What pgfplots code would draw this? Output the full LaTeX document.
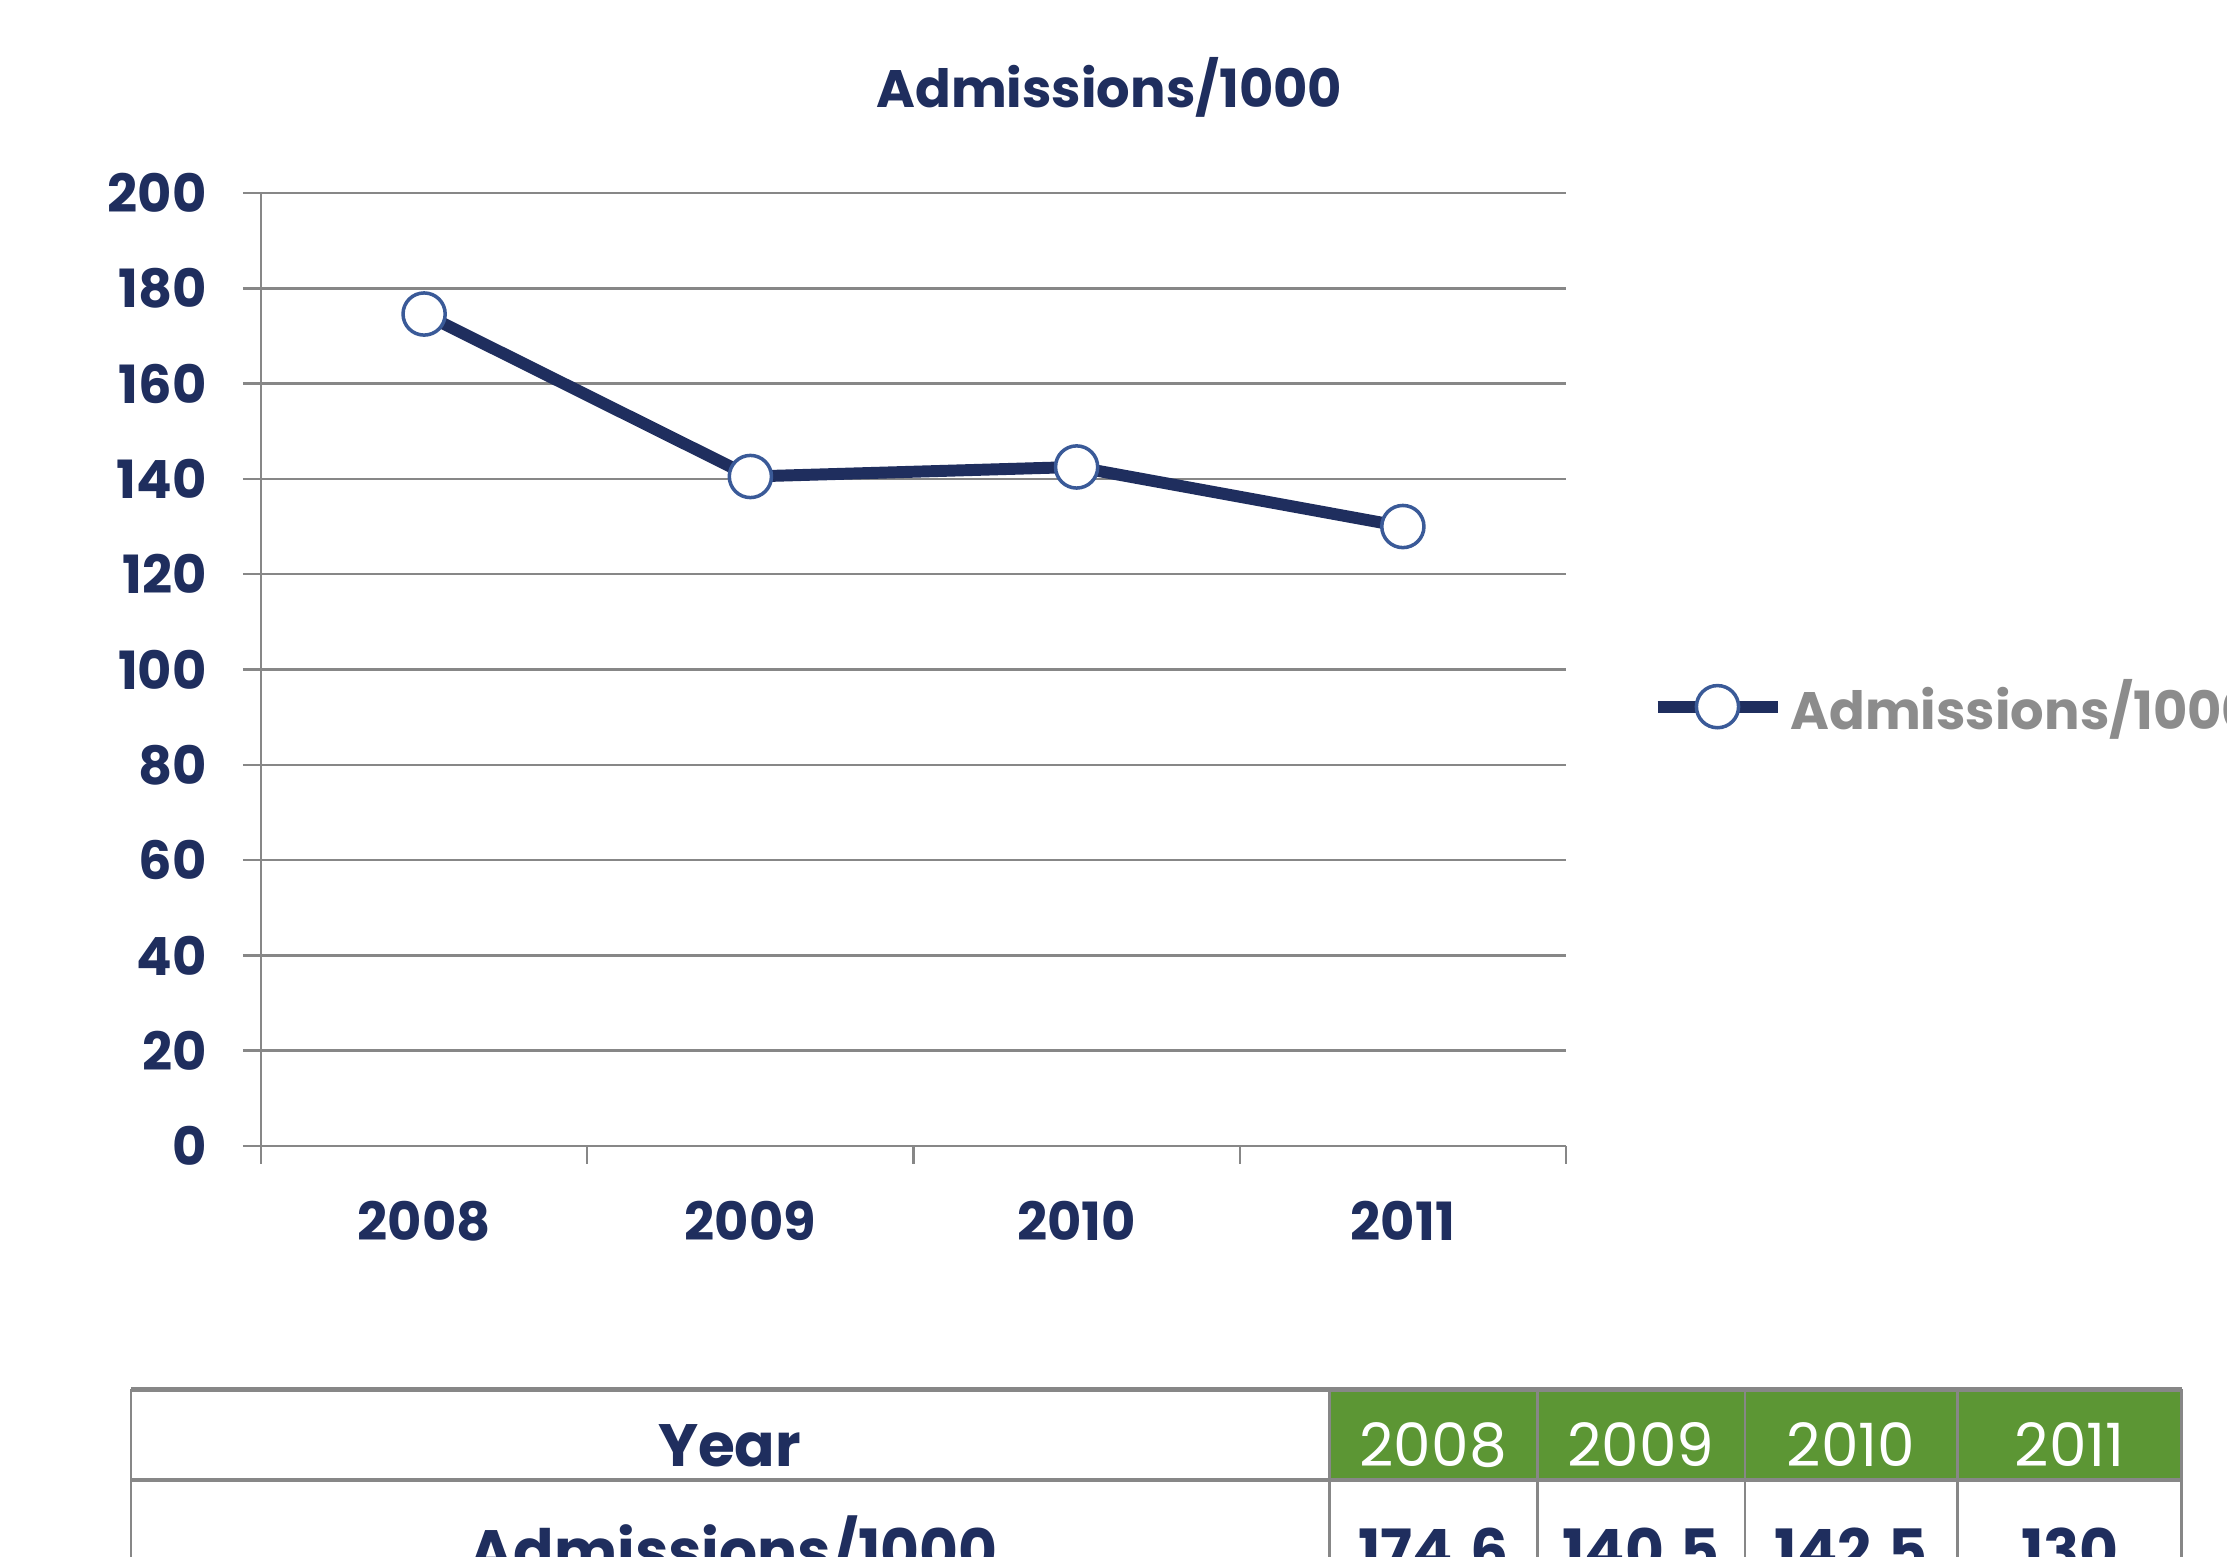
\documentclass[border=0pt]{standalone}
\usepackage{fontspec}
\setmainfont{Poppins}
\usepackage{pgfplots}
\pgfplotsset{compat=1.18}

\definecolor{navy}{RGB}{31,46,94}
\definecolor{markblue}{RGB}{58,90,152}
\definecolor{gridgray}{RGB}{135,135,135}
\definecolor{leggray}{RGB}{140,140,140}
\definecolor{hdrgreen}{RGB}{92,150,52}
\newcommand{\lbl}{\bfseries\fontsize{15}{18}\selectfont}
\newcommand{\tbl}{\fontsize{17}{20}\selectfont}

\begin{document}
\begin{tikzpicture}
\clip (0,0) rectangle (22.27cm,-15.57cm);
\fill[white] (0,0) rectangle (22.27cm,-15.57cm);

\begin{axis}[
    at={(2.61cm,-11.46cm)}, anchor=south west,
    scale only axis, width=13.05cm, height=9.53cm,
    xmin=-0.5, xmax=3.5, ymin=0, ymax=200,
    xtick={-0.5,0.5,1.5,2.5,3.5},
    xticklabels={2008,2009,2010,2011},
    x tick label as interval,
    ytick={0,20,...,200},
    axis x line*=bottom, axis y line*=left,
    axis line style={draw=gridgray, line width=0.7pt, -},
    tick style={draw=gridgray, line width=0.7pt},
    tick align=outside, major tick length=0.18cm,
    ymajorgrids, grid style={draw=gridgray, line width=0.7pt},
    ticklabel style={text=navy, font=\lbl},
    yticklabel style={xshift=-0.24cm},
    xticklabel style={yshift=-0.25cm},
    /pgf/number format/assume math mode=true,
    clip=false,
    legend style={at={(1.065,0.461)}, anchor=west, draw=none, fill=none,
        inner sep=0pt, font=\lbl, text=leggray},
    legend image code/.code={\draw[#1, mark repeat=2, mark phase=2]
        plot coordinates {(0cm,0cm) (0.6cm,0cm) (1.2cm,0cm)};},
]
\addplot[navy, line width=3.4pt, mark=*, mark size=6pt,
    mark options={fill=white, draw=markblue, line width=1pt}]
    coordinates {(0,174.6) (1,140.5) (2,142.5) (3,130)};
\addlegendentry{Admissions/1000}
\end{axis}

\begin{scope}[x=0.01cm, y=-0.01cm]
% title
\node[text=navy, font=\lbl, anchor=base] at (1110,108) {Admissions/1000};
% table
\fill[hdrgreen] (1330,1390) rectangle (2183,1481);
\draw[gridgray, line width=1.4pt] (131,1390) -- (2183,1390);
\draw[gridgray, line width=1.2pt] (131,1481) -- (2183,1481);
\foreach \xx in {131,1330,1538,1746,1959,2183}
    \draw[gridgray, line width=0.8pt] (\xx,1390) -- (\xx,1600);
\node[text=navy, font=\bfseries\tbl, anchor=base] at (730,1467) {Year};
\node[text=white, font=\tbl, anchor=base] at (1434,1467) {2008};
\node[text=white, font=\tbl, anchor=base] at (1642,1467) {2009};
\node[text=white, font=\tbl, anchor=base] at (1852,1467) {2010};
\node[text=white, font=\tbl, anchor=base] at (2071,1467) {2011};
\node[text=navy, font=\bfseries\tbl, anchor=base] at (734,1573) {Admissions/1000};
\node[text=navy, font=\bfseries\tbl, anchor=base] at (1434,1573) {174.6};
\node[text=navy, font=\bfseries\tbl, anchor=base] at (1642,1573) {140.5};
\node[text=navy, font=\bfseries\tbl, anchor=base] at (1852,1573) {142.5};
\node[text=navy, font=\bfseries\tbl, anchor=base] at (2071,1573) {130};
\end{scope}
\end{tikzpicture}
\end{document}
